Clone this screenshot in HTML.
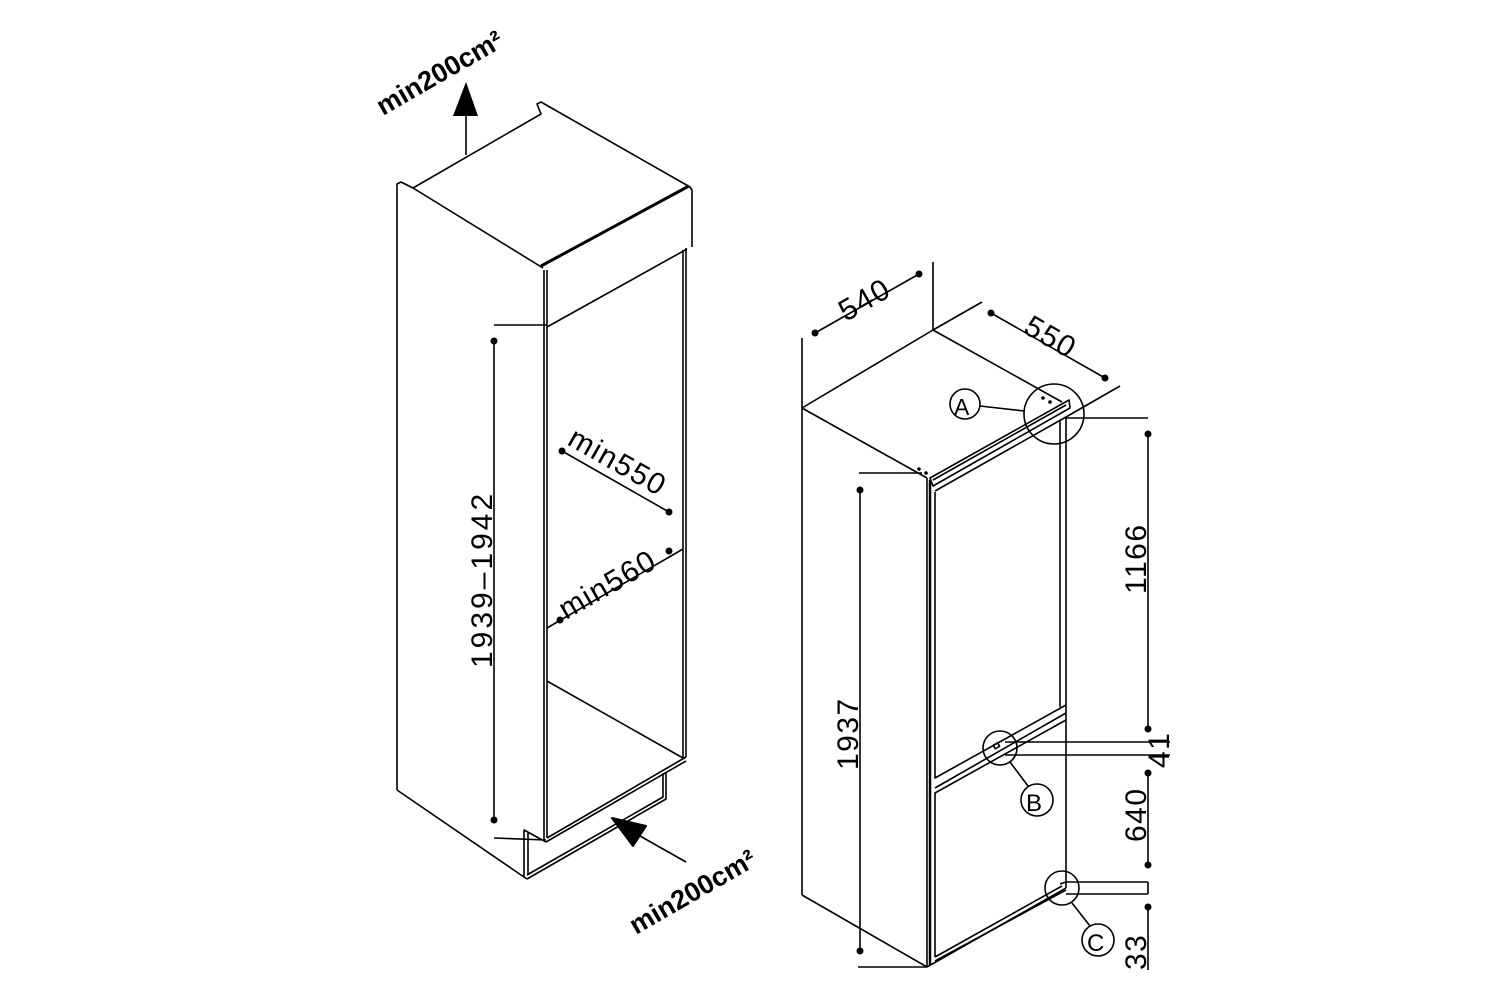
<!DOCTYPE html>
<html><head><meta charset="utf-8"><style>
html,body{margin:0;padding:0;background:#fff;}
svg{display:block;}
text{font-family:"Liberation Sans",sans-serif;fill:#000;}
.d{font-size:30px;font-weight:normal;letter-spacing:1.5px;}
.b{font-size:27px;font-weight:bold;}
</style></head><body>
<svg width="1500" height="1000" viewBox="0 0 1500 1000" xmlns="http://www.w3.org/2000/svg">
<g fill="none" stroke="#000" stroke-width="1.6" stroke-linejoin="round">
<polyline points="397,790 397,184 401,182 413,188 543,268"/>
<polyline points="413,188 541,114 537,104 541,102 690,187 692,190 692,247"/>
<line x1="541" y1="266" x2="689" y2="186" stroke-width="3"/>
<line x1="544" y1="270" x2="544" y2="327"/>
<line x1="547" y1="270" x2="547" y2="327"/>
<line x1="547" y1="327" x2="687" y2="249"/>
<line x1="494" y1="325" x2="547" y2="325"/>
<line x1="544" y1="327" x2="544" y2="840"/>
<line x1="547" y1="327" x2="547" y2="838"/>
<line x1="683" y1="250" x2="683" y2="758"/>
<line x1="686" y1="248" x2="686" y2="757"/>
<line x1="547" y1="681" x2="683" y2="758"/>
<line x1="547" y1="838" x2="686" y2="757"/>
<line x1="546" y1="842" x2="686" y2="761"/>
<line x1="494" y1="838" x2="546" y2="840"/>
<polyline points="663,773 663,797 527,875"/>
<polyline points="666,772 666,799 527,879"/>
<polyline points="546,842 524,830 524,877 527,879"/>
<line x1="528" y1="833" x2="528" y2="875"/>
<line x1="397" y1="790" x2="524" y2="877"/>
<line x1="466" y1="155" x2="466" y2="112"/>
<line x1="686" y1="862" x2="640" y2="836"/>
<line x1="494" y1="341" x2="494" y2="820"/>
<line x1="562" y1="451" x2="669" y2="512"/>
<line x1="547" y1="628" x2="683" y2="549"/>

<line x1="802" y1="338" x2="802" y2="895"/>
<line x1="802" y1="408" x2="933" y2="330"/>
<line x1="933" y1="262" x2="933" y2="330"/>
<line x1="933" y1="330" x2="982" y2="302"/>
<line x1="933" y1="330" x2="1062" y2="402"/>
<line x1="802" y1="408" x2="927" y2="478"/>
<line x1="815" y1="333" x2="919" y2="274"/>
<line x1="991" y1="313" x2="1105" y2="378"/>
<line x1="802" y1="895" x2="927" y2="967"/>
<line x1="927" y1="478" x2="927" y2="967"/>
<line x1="930" y1="480" x2="930" y2="965" stroke-width="2.5"/>
<line x1="927" y1="967" x2="1066" y2="888"/>
<line x1="1066" y1="417" x2="1066" y2="888"/>
<line x1="1066" y1="417" x2="1120" y2="386"/>
<line x1="1066" y1="418" x2="1148" y2="418"/>
<polygon points="930,478 1069,400 1070,408 933,486"/>
<line x1="933" y1="480" x2="1066" y2="405"/>
<line x1="935" y1="491" x2="1066" y2="417"/>
<line x1="859" y1="473" x2="922" y2="473"/>
<polyline points="935,492 935,778 1066,705"/>
<line x1="1060" y1="707" x2="1060" y2="420"/>
<polyline points="935,957 935,793 1066,720"/>
<line x1="935" y1="788" x2="1066" y2="713"/>
<line x1="935" y1="957" x2="1062" y2="886"/>
<line x1="935" y1="961" x2="1066" y2="890"/>
<line x1="1005" y1="742" x2="1170" y2="742"/>
<line x1="1005" y1="755" x2="1170" y2="755"/>
<line x1="1066" y1="882" x2="1148" y2="882"/>
<line x1="1066" y1="894" x2="1148" y2="894"/>
<line x1="1148" y1="882" x2="1148" y2="894"/>
<line x1="1060" y1="884" x2="1066" y2="882"/>
<line x1="1148" y1="434" x2="1148" y2="729"/>
<line x1="1148" y1="773" x2="1148" y2="865"/>
<line x1="1148" y1="907" x2="1148" y2="970"/>
<line x1="860" y1="490" x2="860" y2="951"/>
<line x1="858" y1="967" x2="927" y2="967"/>
<circle cx="1054" cy="414" r="30"/>
<circle cx="965" cy="404" r="15"/>
<line x1="980" y1="406" x2="1024" y2="411"/>
<circle cx="1000" cy="748" r="17"/>
<circle cx="1037" cy="800" r="16"/>
<line x1="1010" y1="762" x2="1028" y2="786"/>
<circle cx="1062" cy="888" r="17"/>
<circle cx="1098" cy="940" r="16"/>
<line x1="1072" y1="903" x2="1090" y2="926"/>
<rect x="994" y="744" width="5" height="4" transform="rotate(-30 996 746)"/>
</g>
<g fill="#000">
<polygon points="453,116 466,82 478,116"/>
<polygon points="612,818 646,826 633,846" stroke="#000" stroke-width="2" stroke-linejoin="round"/>
<circle cx="494" cy="341" r="3.5"/><circle cx="494" cy="820" r="3.5"/>
<circle cx="562" cy="451" r="3.5"/><circle cx="669" cy="512" r="3.5"/>
<circle cx="560" cy="620" r="3.5"/><circle cx="669" cy="551" r="3.5"/>
<circle cx="815" cy="333" r="3.5"/><circle cx="919" cy="274" r="3.5"/>
<circle cx="991" cy="313" r="3.5"/><circle cx="1105" cy="378" r="3.5"/>
<circle cx="1148" cy="434" r="3.5"/><circle cx="1148" cy="729" r="3.5"/>
<circle cx="1148" cy="773" r="3.5"/><circle cx="1148" cy="865" r="3.5"/>
<circle cx="1148" cy="907" r="3.5"/>
<circle cx="860" cy="490" r="3.5"/><circle cx="860" cy="951" r="3.5"/>
<circle cx="1043" cy="398" r="1.8"/><circle cx="1050" cy="402" r="1.8"/>
<circle cx="919" cy="469" r="1.8"/><circle cx="926" cy="473" r="1.8"/>
</g>
<text class="b" transform="translate(383,116) rotate(-30)">min200cm²</text>
<text class="b" transform="translate(636,935) rotate(-30)">min200cm²</text>
<text class="d" transform="translate(492,668) rotate(-90)" style="letter-spacing:3px">1939–1942</text>
<text class="d" transform="translate(566,444) rotate(29.5)">min550</text>
<text class="d" transform="translate(566,620) rotate(-30)">min560</text>
<text class="d" transform="translate(858,770) rotate(-90)">1937</text>
<text class="d" transform="translate(1146,594) rotate(-90)">1166</text>
<text class="d" transform="translate(1169,768) rotate(-90)">41</text>
<text class="d" transform="translate(1146,842) rotate(-90)">640</text>
<text class="d" transform="translate(1146,970) rotate(-90)">33</text>
<text class="d" transform="translate(846,322) rotate(-30)">540</text>
<text class="d" transform="translate(1022,332) rotate(30)">550</text>
<text x="954" y="415" style="font-size:23px">A</text>
<text x="1026" y="811" style="font-size:24px">B</text>
<text x="1087" y="951" style="font-size:24px">C</text>
</svg>
</body></html>
